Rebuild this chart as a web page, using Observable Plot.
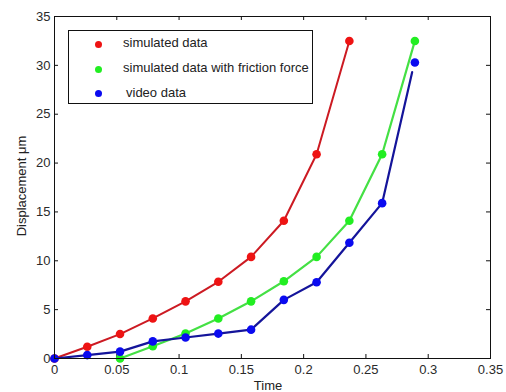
<!DOCTYPE html>
<html>
<head>
<meta charset="utf-8">
<script src="https://cdn.jsdelivr.net/npm/d3@7"></script>
<script src="https://cdn.jsdelivr.net/npm/@observablehq/plot@0.6"></script>
<style>
  html, body { margin: 0; padding: 0; background: #fff; }
  #wrap { position: relative; width: 506px; height: 392px; font-family: "Liberation Sans", Arial, sans-serif; }
  #legend { position: absolute; left: 68px; top: 30px; width: 245px; height: 74px; border: 1px solid #111; background: #fff; box-sizing: border-box; }
  .item { position: absolute; left: 0; font-size: 13px; color: #222; }
  .dot { position: absolute; width: 7px; height: 7px; border-radius: 50%; }
  .lab { position: absolute; white-space: nowrap; }
  #ylab { position: absolute; left: 21px; top: 186px; transform: translate(-50%, -50%) rotate(-90deg); font-size: 13px; color: #222; white-space: nowrap; }
  #xlab { position: absolute; left: 268px; top: 385px; transform: translate(-50%, -50%); font-size: 13px; color: #222; }
</style>
</head>
<body>
<div id="wrap">
  <div id="chart"></div>
  <div id="legend"></div>
  <div id="ylab">Displacement μm</div>
  <div id="xlab">Time</div>
</div>
<script>
// Data
const simTime = [0, 0.0263, 0.0526, 0.0789, 0.1052, 0.1315, 0.1578, 0.1841, 0.2104, 0.2367];
const simDisp = [0, 1.2, 2.5, 4.1, 5.85, 7.85, 10.4, 14.1, 20.9, 32.5];

const fricTime = [0.0526, 0.0789, 0.1052, 0.1315, 0.1578, 0.1841, 0.2104, 0.2367, 0.263, 0.2893];
const fricDisp = [0, 1.25, 2.55, 4.1, 5.85, 7.9, 10.4, 14.1, 20.9, 32.5];

const videoTime = [0, 0.0263, 0.0526, 0.0789, 0.1052, 0.1315, 0.1578, 0.1841, 0.2104, 0.2367, 0.263, 0.2893];
const videoDisp = [0, 0.35, 0.7, 1.75, 2.15, 2.55, 2.95, 6.0, 7.8, 11.85, 15.9, 30.3];
// the video line stops just short of its last marker
const videoLineTime = [0, 0.0263, 0.0526, 0.0789, 0.1052, 0.1315, 0.1578, 0.1841, 0.2104, 0.2367, 0.263, 0.2871];
const videoLineDisp = [0, 0.35, 0.7, 1.75, 2.15, 2.55, 2.95, 6.0, 7.8, 11.85, 15.9, 29.3];

const xTicks = [0, 0.05, 0.1, 0.15, 0.2, 0.25, 0.3, 0.35];
const yTicks = [0, 5, 10, 15, 20, 25, 30, 35];

const seriesNames = ["simulated data", "simulated data with friction force", "video data"];
const markerColors = ["#ee1313", "#22ee22", "#0a0af0"];
const lineColors = ["#cc1a22", "#44e044", "#14149a"];

const zip = (xs, ys) => xs.map((x, i) => ({x, y: ys[i]}));
const sim = zip(simTime, simDisp);
const fric = zip(fricTime, fricDisp);
const video = zip(videoTime, videoDisp);
const videoLine = zip(videoLineTime, videoLineDisp);

const W = 506, H = 392, mT = 16, mB = 34, mL = 54, mR = 16;
const innerH = H - mT - mB, innerW = W - mL - mR;
const tickLen = 4;

const chart = Plot.plot({
  width: W, height: H,
  marginTop: mT, marginBottom: mB, marginLeft: mL, marginRight: mR,
  style: {fontFamily: '"Liberation Sans", Arial, sans-serif', fontSize: "13px", color: "#2a2a2a", background: "#fff"},
  x: {domain: [0, 0.35]},
  y: {domain: [0, 35]},
  marks: [
    Plot.axisX({ticks: xTicks, tickSize: 0, tickPadding: 6, label: null, tickFormat: d => String(d), fontSize: 13}),
    Plot.axisY({ticks: yTicks, tickSize: 0, tickPadding: 4, label: null, tickFormat: d => String(d), fontSize: 13}),
    Plot.tickX(xTicks, {x: d => d, insetTop: innerH - tickLen, stroke: "#111"}),
    Plot.tickX(xTicks, {x: d => d, insetBottom: innerH - tickLen, stroke: "#111"}),
    Plot.tickY(yTicks, {y: d => d, insetRight: innerW - tickLen, stroke: "#111"}),
    Plot.tickY(yTicks, {y: d => d, insetLeft: innerW - tickLen, stroke: "#111"}),
    Plot.line(sim, {x: "x", y: "y", stroke: lineColors[0], strokeWidth: 2}),
    Plot.dot(sim, {x: "x", y: "y", r: 4.3, fill: markerColors[0], stroke: "none"}),
    Plot.line(fric, {x: "x", y: "y", stroke: lineColors[1], strokeWidth: 2.2}),
    Plot.dot(fric, {x: "x", y: "y", r: 4.3, fill: markerColors[1], stroke: "none"}),
    Plot.line(videoLine, {x: "x", y: "y", stroke: lineColors[2], strokeWidth: 2.2}),
    Plot.dot(video, {x: "x", y: "y", r: 4.3, fill: markerColors[2], stroke: "none"}),
    Plot.frame({stroke: "#111"})
  ]
});
document.getElementById("chart").appendChild(chart);

const legend = document.getElementById("legend");
const rowsY = [13, 38, 62.5];
const labelX = [54, 54, 57];
seriesNames.forEach((name, i) => {
  const dot = document.createElement("div");
  dot.className = "dot";
  dot.style.background = markerColors[i];
  dot.style.left = (29 - 3.5) + "px";
  dot.style.top = (rowsY[i] - 3.5) + "px";
  legend.appendChild(dot);
  const lab = document.createElement("div");
  lab.className = "item lab";
  lab.textContent = name;
  lab.style.left = labelX[i] + "px";
  lab.style.top = (rowsY[i] - 9) + "px";
  legend.appendChild(lab);
});
</script>
</body>
</html>
